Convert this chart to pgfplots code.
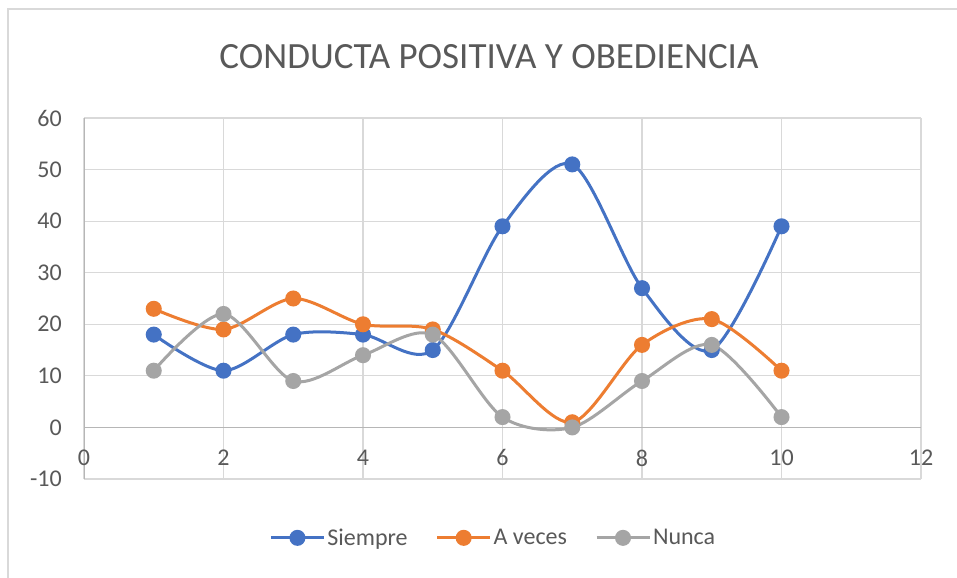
\documentclass[border=0pt]{standalone}
\usepackage{fontspec}
\setmainfont{Carlito}
\usepackage{pgfplots}
\pgfplotsset{compat=1.18}
\definecolor{cblue}{HTML}{4472C4}
\definecolor{corange}{HTML}{ED7D31}
\definecolor{cgrey}{HTML}{A5A5A5}
\definecolor{cgrid}{HTML}{D9D9D9}
\definecolor{ctext}{HTML}{595959}
\begin{document}
\begin{tikzpicture}[x=1bp,y=1bp]
\path[use as bounding box] (0,0) rectangle (957,578);
\fill[white] (0,0) rectangle (957,578);
\draw[cgrid, line width=1.5bp] (8,0) -- (8,569) -- (957,569);
\node[text=ctext, font=\fontsize{37bp}{44bp}\selectfont] at (489,521) {CONDUCTA POSITIVA Y OBEDIENCIA};
\begin{axis}[
  at={(84bp,99bp)}, anchor=south west,
  scale only axis, width=837bp, height=361bp,
  xmin=0, xmax=12, ymin=-10, ymax=60,
  enlargelimits=false,
  axis x line=middle, axis y line=left,
  axis line style={-, draw=cgrid!80!black!90, line width=1bp},
  hide obscured x ticks=false, hide obscured y ticks=false,
  xtick={0,2,...,12}, ytick={-10,0,...,60},
  major tick length=0pt,
  grid=major,
  grid style={cgrid, line width=1.2bp},
  tick label style={text=ctext, font=\fontsize{24bp}{28bp}\selectfont},
  xticklabel style={anchor=north, inner sep=0pt, yshift=-22bp},
  yticklabel style={anchor=east, inner sep=0pt, xshift=-22bp},
  /pgf/number format/assume math mode=true,
  legend columns=3,
  legend style={at={(0.489,-0.163)}, anchor=center, draw=none, fill=none,
    font=\fontsize{24bp}{28bp}\selectfont, text=ctext,
    /tikz/every even column/.append style={column sep=26bp},
    inner sep=0pt},
  legend image code/.code={\draw[mark repeat=2,mark phase=2,#1] plot coordinates {(0bp,0bp) (26.5bp,0bp) (53bp,0bp)};},
  every axis plot/.append style={line width=3bp, smooth, tension=0.5, mark=*, mark size=6.5bp},
]
\addplot[cblue, mark options={fill=cblue, draw=cblue}] coordinates {
(1,18) (2,11) (3,18) (4,18) (5,15) (6,39) (7,51) (8,27) (9,15) (10,39)};
\addlegendentry{Siempre}
\addplot[corange, mark options={fill=corange, draw=corange}] coordinates {
(1,23) (2,19) (3,25) (4,20) (5,19) (6,11) (7,1) (8,16) (9,21) (10,11)};
\addlegendentry{A veces}
\addplot[cgrey, mark options={fill=cgrey, draw=cgrey}] coordinates {
(1,11) (2,22) (3,9) (4,14) (5,18) (6,2) (7,0) (8,9) (9,16) (10,2)};
\addlegendentry{Nunca}
\end{axis}
\end{tikzpicture}
\end{document}
